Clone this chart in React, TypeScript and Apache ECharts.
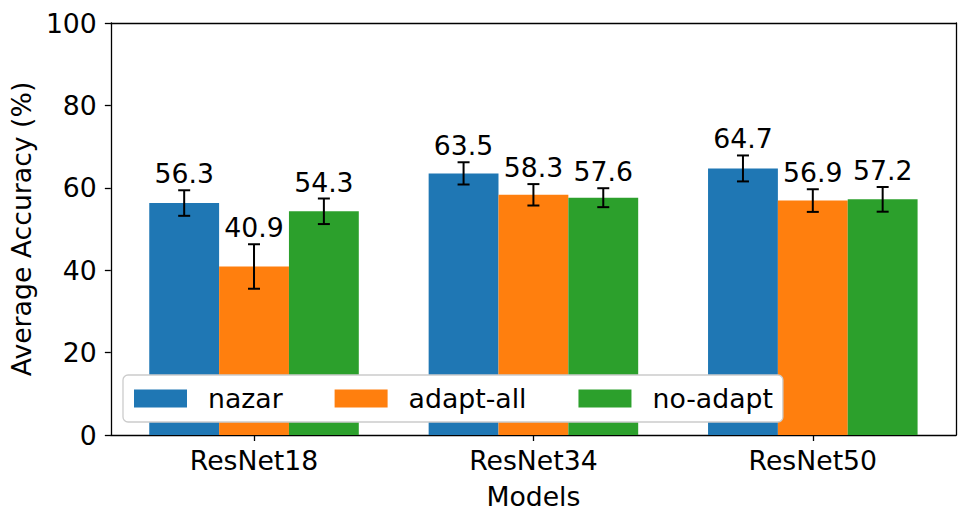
import React, { useEffect, useRef } from "react";
import * as echarts from "echarts";

const categories = ["ResNet18", "ResNet34", "ResNet50"];
const seriesNames = ["nazar", "adapt-all", "no-adapt"];
const seriesColors = ["#1f77b4", "#ff7f0e", "#2ca02c"];
const nazarValues = [56.3, 63.5, 64.7];
const adaptAllValues = [40.9, 58.3, 56.9];
const noAdaptValues = [54.3, 57.6, 57.2];
const nazarErrors = [3.1, 2.7, 3.15];
const adaptAllErrors = [5.4, 2.6, 2.75];
const noAdaptErrors = [3.1, 2.3, 3.0];
const yTicks = [0, 20, 40, 60, 80, 100];
const categoryPositions = [0, 1, 2];

const BAR_W = 0.25;
const FONT = "DejaVu Sans";
const FS = 26.7;

export default function App() {
  const ref = useRef<HTMLDivElement>(null);
  useEffect(() => {
    if (!ref.current) return;
    document.body.style.margin = "0";
    const chart = echarts.init(ref.current, undefined, { renderer: "svg" });
    const allValues = [nazarValues, adaptAllValues, noAdaptValues];
    const allErrors = [nazarErrors, adaptAllErrors, noAdaptErrors];
    const offsets = [-BAR_W, 0, BAR_W];

    const barSeries = seriesNames.map((name, si) => ({
      type: "custom",
      name,
      itemStyle: { color: seriesColors[si] },
      data: categoryPositions.map((c, i) => [c, allValues[si][i]]),
      z: 2,
      renderItem: (params: any, api: any) => {
        const x = api.value(0) + offsets[si];
        const v = api.value(1);
        const p0 = api.coord([x - BAR_W / 2, v]);
        const p1 = api.coord([x + BAR_W / 2, 0]);
        return {
          type: "rect",
          shape: { x: p0[0], y: p0[1], width: p1[0] - p0[0], height: p1[1] - p0[1] },
          style: { fill: seriesColors[si] },
        };
      },
    }));

    const errSeries = seriesNames.map((name, si) => ({
      type: "custom",
      name: name + "-err",
      z: 5,
      data: categoryPositions.map((c, i) => [c, allValues[si][i], allErrors[si][i]]),
      renderItem: (params: any, api: any) => {
        const x = api.value(0) + offsets[si];
        const v = api.value(1);
        const e = api.value(2);
        const top = api.coord([x, v + e]);
        const bot = api.coord([x, v - e]);
        const cap = 6;
        const ls = { stroke: "#000", lineWidth: 2 };
        return {
          type: "group",
          children: [
            { type: "line", shape: { x1: top[0], y1: top[1], x2: bot[0], y2: bot[1] }, style: ls },
            { type: "line", shape: { x1: top[0] - cap, y1: top[1], x2: top[0] + cap, y2: top[1] }, style: ls },
            { type: "line", shape: { x1: bot[0] - cap, y1: bot[1], x2: bot[0] + cap, y2: bot[1] }, style: ls },
            {
              type: "text",
              x: top[0],
              y: top[1] - 3,
              style: {
                text: v.toFixed(1),
                fill: "#000",
                font: `${FS}px "${FONT}"`,
                textAlign: "center",
                textVerticalAlign: "bottom",
              },
            },
          ],
        };
      },
    }));

    const axisLineStyle = { color: "#000", width: 1.3 };
    chart.setOption({
      animation: false,
      textStyle: { fontFamily: FONT },
      grid: { left: 110, right: 13, top: 23, bottom: 86, containLabel: false },
      legend: {
        data: seriesNames,
        left: 123,
        top: 375,
        orient: "horizontal",
        icon: "rect",
        itemWidth: 53,
        itemHeight: 18,
        itemGap: 52,
        padding: [10, 10, 10, 11],
        backgroundColor: "#ffffff",
        borderColor: "#cccccc",
        borderWidth: 1.3,
        borderRadius: 5,
        textStyle: { fontSize: FS, color: "#000", fontFamily: FONT, padding: [0, 0, 0, 16] },
      },
      xAxis: [
        {
          type: "value",
          min: -0.5125,
          max: 2.5125,
          name: "Models",
          nameLocation: "middle",
          nameGap: 48,
          nameTextStyle: { fontSize: FS, color: "#000", fontFamily: FONT },
          splitLine: { show: false },
          axisLine: { show: true, onZero: false, lineStyle: axisLineStyle },
          axisTick: { show: true, length: 6, lineStyle: axisLineStyle, customValues: categoryPositions },
          axisLabel: {
            customValues: categoryPositions,
            formatter: (v: number) => categories[Math.round(v)] ?? "",
            fontSize: FS,
            color: "#000",
            fontFamily: FONT,
            margin: 12,
          },
        },
        {
          type: "value",
          position: "top",
          min: -0.5125,
          max: 2.5125,
          splitLine: { show: false },
          axisLine: { show: true, onZero: false, lineStyle: axisLineStyle },
          axisTick: { show: false },
          axisLabel: { show: false },
        },
      ],
      yAxis: [
        {
          type: "value",
          min: 0,
          max: 100,
          interval: 20,
          name: "Average Accuracy (%)",
          nameLocation: "middle",
          nameGap: 71,
          nameTextStyle: { fontSize: FS, color: "#000", fontFamily: FONT },
          splitLine: { show: false },
          axisLine: { show: true, onZero: false, lineStyle: axisLineStyle },
          axisTick: { show: true, length: 6, lineStyle: axisLineStyle },
          axisLabel: {
            fontSize: FS,
            color: "#000",
            fontFamily: FONT,
            margin: 14,
            formatter: (v: number) => (yTicks.includes(v) ? String(v) : ""),
          },
        },
        {
          type: "value",
          position: "right",
          min: 0,
          max: 100,
          interval: 20,
          splitLine: { show: false },
          axisLine: { show: true, onZero: false, lineStyle: axisLineStyle },
          axisTick: { show: false },
          axisLabel: { show: false },
        },
      ],
      series: [...barSeries, ...errSeries],
    });
    return () => chart.dispose();
  }, []);
  return <div ref={ref} style={{ width: 969, height: 521 }} />;
}
